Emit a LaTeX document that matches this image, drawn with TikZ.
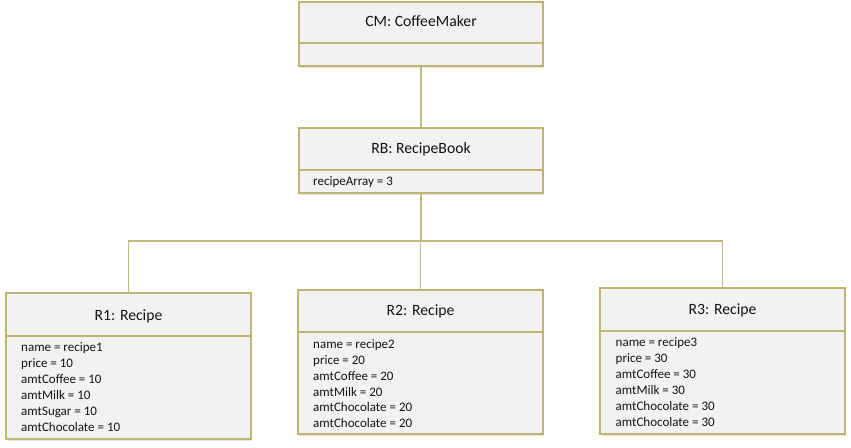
\documentclass[tikz,border=0pt]{standalone}
\usepackage{fontspec}
\setmainfont{Carlito}
\usetikzlibrary{shadows}
\definecolor{bord}{RGB}{190,182,112}
\definecolor{conn}{RGB}{192,186,124}
\definecolor{boxfill}{RGB}{242,242,242}
\definecolor{txt}{RGB}{20,20,20}
\tikzset{
  umlbox/.style={draw=bord, line width=1.6pt, fill=boxfill, rectangle, inner sep=0pt,
    drop shadow={shadow xshift=1.2pt, shadow yshift=-1.6pt, fill=black!25, opacity=0.45}},
  divider/.style={draw=bord, line width=1.6pt},
  connector/.style={draw=conn, line width=1.2pt},
  titletext/.style={font=\fontsize{15.7}{18}\selectfont, text=txt, inner sep=0pt, anchor=base},
  attrtext/.style={font=\fontsize{13}{16}\selectfont, text=txt, inner sep=0pt, anchor=base west}
}
\begin{document}
\begin{tikzpicture}[x=1pt,y=-1pt]
\useasboundingbox (0,0) rectangle (851,447);

% boxes
\node[umlbox, minimum width=244pt, minimum height=64pt] (cm) at (421,34) {};
\node[umlbox, minimum width=244pt, minimum height=65pt] (rb) at (421,160.5) {};
\node[umlbox, minimum width=245pt, minimum height=146pt] (r1) at (128.5,366) {};
\node[umlbox, minimum width=245pt, minimum height=144pt] (r2) at (420.5,362) {};
\node[umlbox, minimum width=245pt, minimum height=146pt] (r3) at (722.5,361) {};

% dividers
\draw[divider] (cm.west |- 0,43) -- (cm.east |- 0,43);
\draw[divider] (rb.west |- 0,170) -- (rb.east |- 0,170);
\draw[divider] (r1.west |- 0,336) -- (r1.east |- 0,336);
\draw[divider] (r2.west |- 0,332) -- (r2.east |- 0,332);
\draw[divider] (r3.west |- 0,331) -- (r3.east |- 0,331);

% titles
\node[titletext] (cmt) at (421,26.7) {CM: CoffeeMaker};
\node[titletext] (rbt) at (421,153.3) {RB: RecipeBook};
\node[titletext] (r1t) at (128.5,320) {R1: Recipe};
\node[titletext] (r2t) at (420.5,315.7) {R2: Recipe};
\node[titletext] (r3t) at (722.5,314) {R3: Recipe};

% attributes
\node[attrtext] (rba) at (313,185.7) {recipeArray = 3};

\node[attrtext] (r1a1) at (21,351) {name = recipe1};
\node[attrtext] (r1a2) at (21,367) {price = 10};
\node[attrtext] (r1a3) at (21,383) {amtCoffee = 10};
\node[attrtext] (r1a4) at (21,399) {amtMilk = 10};
\node[attrtext] (r1a5) at (21,415) {amtSugar = 10};
\node[attrtext] (r1a6) at (21,431) {amtChocolate = 10};

\node[attrtext] (r2a1) at (313,348) {name = recipe2};
\node[attrtext] (r2a2) at (313,364) {price = 20};
\node[attrtext] (r2a3) at (313,380) {amtCoffee = 20};
\node[attrtext] (r2a4) at (313,396) {amtMilk = 20};
\node[attrtext] (r2a5) at (313,411.5) {amtChocolate = 20};
\node[attrtext] (r2a6) at (313,427) {amtChocolate = 20};

\node[attrtext] (r3a1) at (615.5,346) {name = recipe3};
\node[attrtext] (r3a2) at (615.5,362) {price = 30};
\node[attrtext] (r3a3) at (615.5,378) {amtCoffee = 30};
\node[attrtext] (r3a4) at (615.5,394) {amtMilk = 30};
\node[attrtext] (r3a5) at (615.5,410) {amtChocolate = 30};
\node[attrtext] (r3a6) at (615.5,426) {amtChocolate = 30};

% connectors
\coordinate (j) at (421,241);
\draw[connector] (cm.south) -- (rb.north);
\draw[connector] (rb.south) -- (j);
\draw[connector] (r1.north) |- (j) -| (r3.north);
\draw[connector] (r2.north) -- (r2.north |- j);
\end{tikzpicture}
\end{document}
